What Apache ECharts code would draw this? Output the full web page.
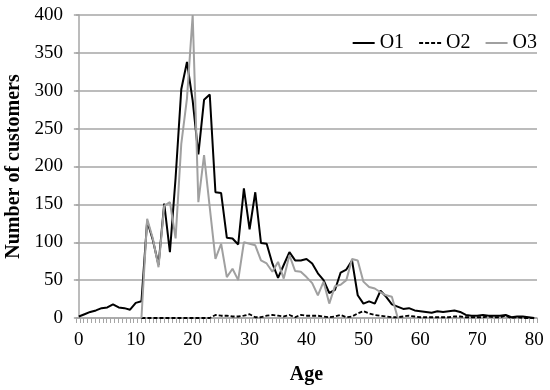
<!DOCTYPE html>
<html>
<head>
<meta charset="utf-8">
<script src="https://cdn.jsdelivr.net/npm/echarts@6/dist/echarts.min.js"></script>
<style>
html,body{margin:0;padding:0;background:#fff;}
#chart{width:550px;height:390px;}
</style>
</head>
<body>
<div id="chart"></div>
<script>
// Ages 0..80
const ages = [];
for (let a = 0; a <= 80; a++) ages.push(a);

const xTickLabels = [0, 10, 20, 30, 40, 50, 60, 70, 80];
const seriesNames = ['O1', 'O2', 'O3'];

const o1 = [2, 5, 8, 10, 13, 14, 18, 14, 13, 11,
  20, 22, 128, 103, 70, 151, 87, 185, 302, 338,
  287, 216, 288, 295, 166, 165, 106, 105, 97, 171,
  117, 166, 99, 98, 72, 53, 70, 87, 76, 76,
  78, 72, 59, 50, 33, 37, 60, 64, 76, 30,
  19, 22, 19, 36, 28, 18, 15, 12, 13, 10,
  9, 8, 7, 9, 8, 9, 10, 8, 4, 3,
  3, 4, 3, 3, 3, 4, 1, 2, 2, 1,
  0];

const o2 = [null, null, null, null, null, null, null, null, null, null,
  null, 0, 0, 0, 0, 0, 0, 0, 0, 0,
  0, 0, 0, 0, 4, 3, 3, 2, 2, 3,
  5, 1, 1, 3, 4, 3, 2, 4, 1, 4,
  3, 3, 3, 2, 1, 2, 4, 1, 2, 6,
  9, 6, 4, 3, 2, 1, 1, 2, 3, 2,
  1, 1, 1, 1, 1, 1, 2, 2, 1, 1,
  1, 1, 2, 1, 1, 3, 0, 1, 0, 0,
  0];

const o3 = [null, null, null, null, null, null, null, null, null, null,
  null, 0, 131, 105, 67, 148, 153, 105, 230, 290,
  400, 153, 215, 146, 78, 98, 54, 65, 50, 100,
  98, 96, 76, 72, 61, 74, 52, 83, 62, 61,
  54, 46, 30, 48, 19, 42, 44, 50, 78, 76,
  48, 41, 39, 34, 30, 28, 1, null, null, null,
  null, null, null, null, null, null, null, null, null, null,
  null, null, null, null, null, null, null, null, null, null,
  null];

function pairs(vals) {
  return ages.map((a, i) => [a, vals[i]]);
}

// fine tick marks along the x axis (style only)
const xTicks = [];
for (let i = 0; i <= 120; i++) xTicks.push(-0.5 + i * 81 / 120);

const FONT = 'Liberation Serif';
const GRID = '#a6a6a6';

const chart = echarts.init(document.getElementById('chart'), null, {renderer: 'canvas'});
chart.setOption({
  animation: false,
  backgroundColor: '#ffffff',
  grid: {left: 76, right: 13, top: 15, bottom: 72, outerBoundsMode: 'none', containLabel: false},
  legend: {
    data: seriesNames,
    right: 8,
    top: 28,
    itemWidth: 22,
    itemHeight: 12,
    itemGap: 14,
    itemStyle: {opacity: 0},
    textStyle: {fontFamily: FONT, fontSize: 20, color: '#000'}
  },
  xAxis: {
    type: 'value',
    min: -0.5,
    max: 80.5,
    name: 'Age',
    nameLocation: 'middle',
    nameGap: 47,
    nameTextStyle: {fontFamily: FONT, fontSize: 20, fontWeight: 'bold', color: '#000'},
    axisLine: {show: true, lineStyle: {color: GRID, width: 1.5}},
    axisTick: {show: true, length: 5, customValues: xTicks, lineStyle: {color: GRID, width: 1}},
    axisLabel: {customValues: xTickLabels, fontFamily: FONT, fontSize: 19, color: '#000', margin: 13},
    splitLine: {show: false}
  },
  yAxis: {
    type: 'value',
    min: 0,
    max: 400,
    interval: 50,
    name: 'Number of customers',
    nameLocation: 'middle',
    nameGap: 52,
    nameTextStyle: {fontFamily: FONT, fontSize: 20, fontWeight: 'bold', color: '#000'},
    axisLine: {show: true, lineStyle: {color: GRID, width: 1.5}},
    axisTick: {show: true, length: 5, lineStyle: {color: GRID, width: 1.5}},
    axisLabel: {fontFamily: FONT, fontSize: 19, color: '#000', margin: 13},
    splitLine: {show: true, lineStyle: {color: GRID, width: 1.5}}
  },
  series: [
    {name: 'O1', type: 'line', data: pairs(o1), symbol: 'none', color: '#000000',
     lineStyle: {color: '#000000', width: 2}},
    {name: 'O2', type: 'line', data: pairs(o2), symbol: 'none', color: '#000000',
     lineStyle: {color: '#000000', width: 1.8, type: [4, 2]}},
    {name: 'O3', type: 'line', data: pairs(o3), symbol: 'none', color: '#a0a0a0',
     lineStyle: {color: '#a0a0a0', width: 2}}
  ]
});
</script>
</body>
</html>
